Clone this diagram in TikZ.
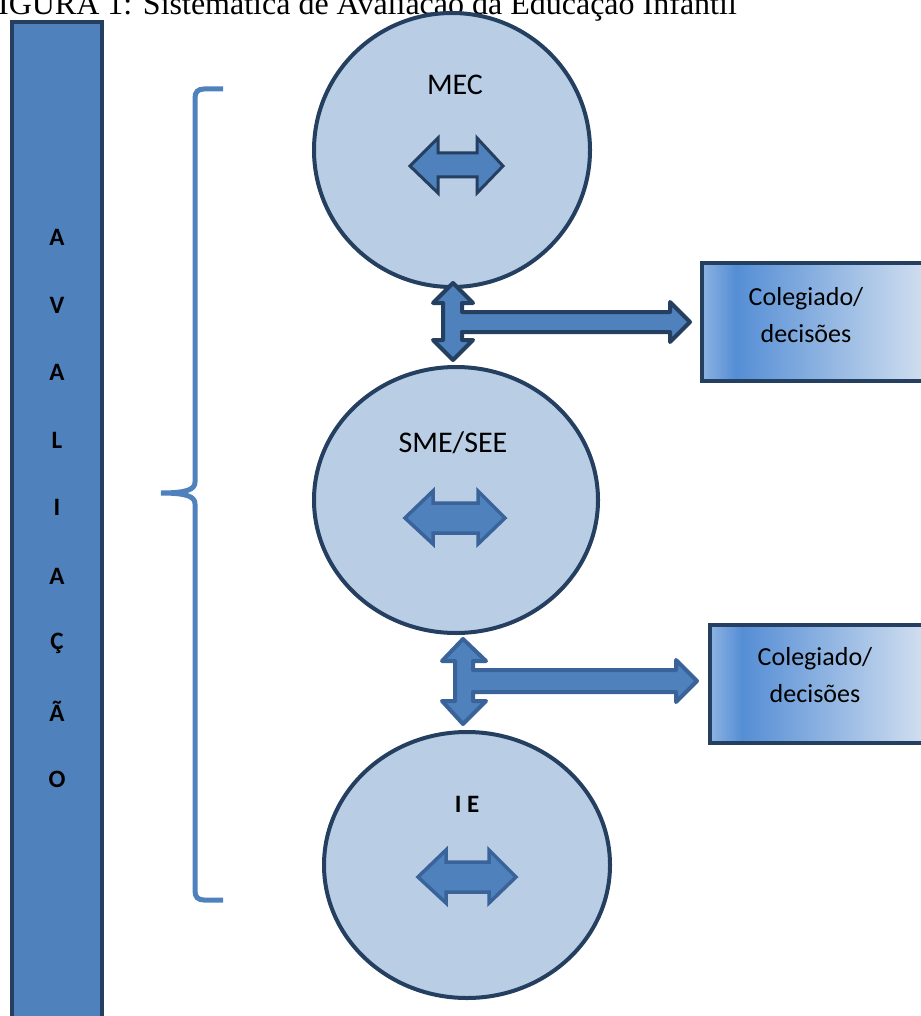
\documentclass[tikz,border=0pt]{standalone}
\usepackage{fontspec}
\setmainfont{Carlito}
\newfontfamily\timesf{Liberation Serif}
\usetikzlibrary{shapes.geometric}
\definecolor{darkb}{HTML}{243F60}
\definecolor{midb}{HTML}{4F81BD}
\definecolor{lightb}{HTML}{B9CDE5}
\definecolor{arrb}{HTML}{3A639A}
\definecolor{gA}{HTML}{8DB3E2}
\definecolor{gB}{HTML}{558ED5}
\definecolor{gC}{HTML}{DCE6F2}
\pgfdeclarehorizontalshading{colshade}{100bp}{color(0bp)=(gA); color(25bp)=(gA); color(32bp)=(gB); color(75bp)=(gC); color(100bp)=(gC)}
\begin{document}
\begin{tikzpicture}[x=1pt,y=-1pt,
  circ/.style={ellipse, draw=darkb, fill=lightb, line width=4pt, inner sep=0pt},
  colbox/.style={draw=darkb, line width=4pt, shading=colshade},
  blockarrow/.style={draw=darkb, fill=midb, line width=4pt, line join=round},
  innerarrow/.style={draw=darkb, fill=midb, line width=3pt, line join=miter},
  softarrow/.style={draw=arrb, fill=midb, line width=3.5pt, line join=miter},
  letter/.style={font=\bfseries\fontsize{25}{28}\selectfont},
  lab/.style={font=\fontsize{30}{34}\selectfont},
  boxtext/.style={font=\fontsize{26}{37}\selectfont, align=center}
]
\useasboundingbox (0,0) rectangle (920,1016);
% title
\node[anchor=base east, inner sep=0pt, font=\timesf\fontsize{32}{34}\selectfont] (title) at (737,15) {FIGURA 1: Sistemática de Avaliação da Educação Infantil};
% vertical bar
\draw[draw=darkb, fill=midb, line width=4pt] (12,22) rectangle (102,1040);
\foreach \l/\y [count=\i] in {A/237, V/305, A/372, L/440, I/507, A/576, Ç/643, Ã/711, O/779}
  \node[letter] (l\i) at (57,\y) {\l};
% brace
\draw[midb, line width=5pt, line cap=butt]
  (223,89) -- (204,89) .. controls (198,89) and (195,92) .. (195,98)
  -- (195,482) .. controls (195,489) and (188,493) .. (161,493)
  .. controls (188,493) and (195,497) .. (195,504)
  -- (195,891) .. controls (195,897) and (198,900) .. (204,900) -- (223,900);
% circles
\node[circ, minimum width=276pt, minimum height=274pt] (mec) at (452,150) {};
\node[circ, minimum width=284pt, minimum height=266pt] (sme) at (456,500) {};
\node[circ, minimum width=286pt, minimum height=266pt] (ie) at (467,865) {};
\node[lab] (meclab) at (455,85) {MEC};
\node[lab] (smelab) at (453,443) {SME/SEE};
\node[lab, font=\bfseries\fontsize{25}{28}\selectfont] (ielab) at (467,804) {I E};
% inner double arrows
\draw[innerarrow] (410,166) -- (438,138) -- (438,153) -- (477,153) -- (477,138) -- (503,166)
  -- (477,193) -- (477,177) -- (438,177) -- (438,193) -- cycle;
\draw[softarrow] (405,518) -- (433,491) -- (433,503) -- (478,503) -- (478,491) -- (505,518)
  -- (478,544) -- (478,533) -- (433,533) -- (433,544) -- cycle;
\draw[softarrow] (418,877) -- (446,850) -- (446,862) -- (489,862) -- (489,850) -- (516,877)
  -- (489,903) -- (489,892) -- (446,892) -- (446,903) -- cycle;
% boxes
\node[colbox, anchor=north west, minimum width=240pt, minimum height=118pt, inner sep=0pt] (box1) at (700,261) {};
\node[boxtext] (box1t) at (806,315) {Colegiado/\\decisões};
\node[colbox, anchor=north west, minimum width=230pt, minimum height=118pt, inner sep=0pt] (box2) at (708,623) {};
\node[boxtext] (box2t) at (815,675) {Colegiado/\\decisões};
% T arrows
\draw[blockarrow] (453,283) -- (473,303) -- (462,303) -- (462,312) -- (670,312) -- (670,302)
  -- (690,322) -- (670,342) -- (670,332) -- (462,332) -- (462,340) -- (473,340)
  -- (453,360) -- (433,340) -- (443,340) -- (443,303) -- (433,303) -- cycle;
\draw[blockarrow, draw=arrb] (463,639) -- (486,661) -- (473,661) -- (473,670) -- (676,670) -- (676,660)
  -- (697,681) -- (676,702) -- (676,692) -- (473,692) -- (473,701) -- (486,701)
  -- (463,724) -- (442,701) -- (455,701) -- (455,661) -- (442,661) -- cycle;
\end{tikzpicture}
\end{document}
